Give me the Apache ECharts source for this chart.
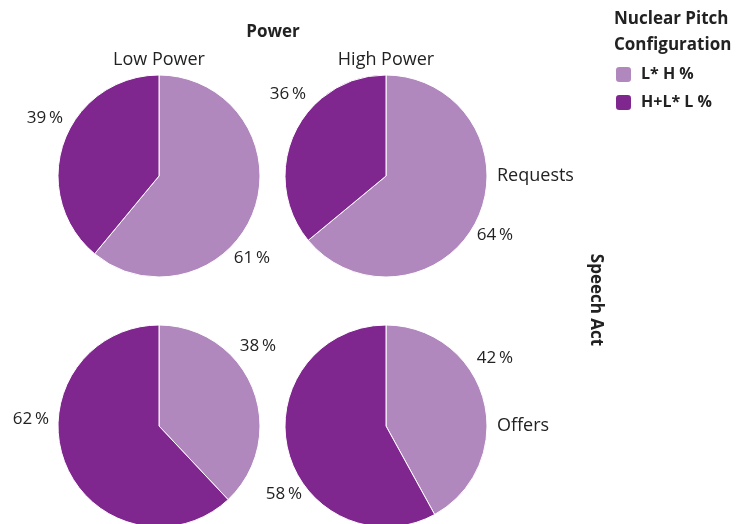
<!DOCTYPE html>
<html>
<head>
<meta charset="utf-8">
<script src="https://cdn.jsdelivr.net/npm/echarts@6/dist/echarts.min.js"></script>
<style>
  html, body { margin: 0; padding: 0; background: #fff; }
  #chart { width: 746px; height: 524px; }
</style>
</head>
<body>
<div id="chart"></div>
<script>
const configs = ['L* H %', 'H+L* L %']
const powers = ['Low Power', 'High Power']
const speechActs = ['Requests', 'Offers']
// [L* H, H+L* L] per pie, row = speech act, col = power
const requestsLow = [61, 39]
const requestsHigh = [64, 36]
const offersLow = [38, 62]
const offersHigh = [42, 58]

const colors = ['#b088be', '#7f278f']
const font = 'Open Sans'

const pies = [
  { values: requestsLow, center: [159, 176], labelAt: [[252, 258], [45, 118]] },
  { values: requestsHigh, center: [386, 176], labelAt: [[495, 235], [288, 94]] },
  { values: offersLow, center: [159, 426], labelAt: [[258, 346], [31, 419]] },
  { values: offersHigh, center: [386, 426], labelAt: [[495, 358], [284, 494]] }
]

const chart = echarts.init(document.getElementById('chart'))

const series = pies.map(p => ({
  type: 'pie',
  radius: 101,
  center: p.center,
  startAngle: 90,
  clockwise: true,
  silent: true,
  avoidLabelOverlap: false,
  itemStyle: { borderColor: '#fff', borderWidth: 1 },
  label: {
    show: true,
    position: 'inside',
    formatter: d => d.value + '\u2009%',
    color: '#222',
    fontFamily: font,
    fontSize: 17
  },
  labelLine: { show: false },
  labelLayout: params => {
    const pos = p.labelAt[params.dataIndex]
    return { x: pos[0], y: pos[1], align: 'center', verticalAlign: 'middle' }
  },
  data: configs.map((name, i) => ({ name, value: p.values[i], itemStyle: { color: colors[i] } }))
}))

const txt = (text, x, y, align, bold, size, rot) => ({
  type: 'text', x, y, rotation: rot || 0,
  style: { text, align, verticalAlign: 'middle', font: (bold ? 'bold ' : '') + size + 'px "Open Sans"', fill: '#222' }
})

const option = {
  animation: false,
  color: colors,
  title: {
    text: 'Nuclear Pitch\nConfiguration', left: 614, top: 6, padding: 0,
    textStyle: { fontFamily: font, fontWeight: 'bold', fontSize: 17, lineHeight: 26, color: '#222' }
  },
  legend: {
    data: configs,
    orient: 'vertical',
    left: 614,
    top: 65,
    padding: 0,
    itemWidth: 17,
    itemHeight: 17,
    itemGap: 9,
    icon: 'roundRect',
    selectedMode: false,
    textStyle: { fontFamily: font, fontWeight: 'bold', fontSize: 16, color: '#222', padding: [0, 0, 0, 4] }
  },
  graphic: [
    txt('Power', 273, 32, 'center', true, 17),
    txt(powers[0], 159, 60, 'center', false, 18),
    txt(powers[1], 386, 60, 'center', false, 18),
    txt(speechActs[0], 497, 176, 'left', false, 18),
    txt(speechActs[1], 497, 426, 'left', false, 18),
    txt('Speech Act', 596, 300, 'center', true, 17, -Math.PI / 2)
  ],
  series
}

chart.setOption(option)
</script>
</body>
</html>
